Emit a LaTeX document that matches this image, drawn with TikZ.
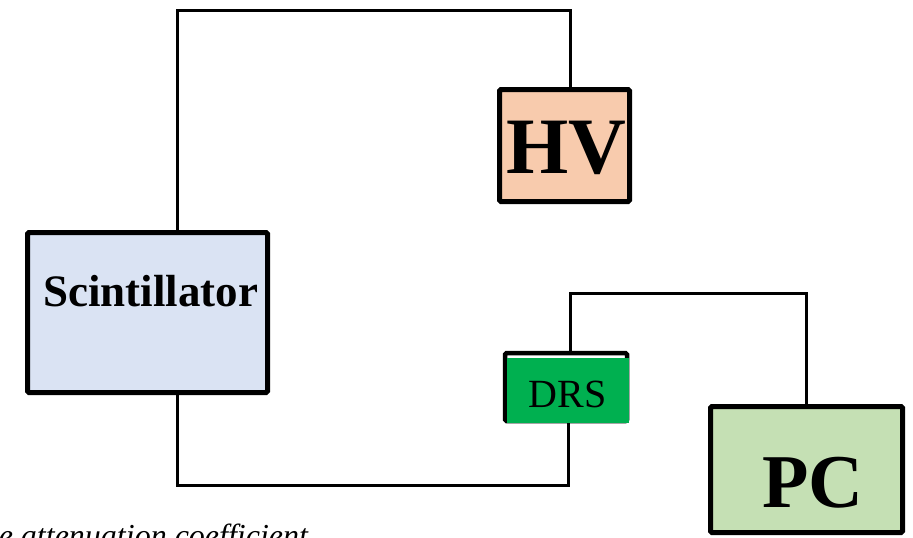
\documentclass[tikz,border=0pt]{standalone}
\usepackage{fontspec}
\setmainfont{Liberation Serif}
\definecolor{scintfill}{HTML}{DAE3F3}
\definecolor{hvfill}{HTML}{F8CBAD}
\definecolor{drsfill}{HTML}{00B050}
\definecolor{pcfill}{HTML}{C5E0B4}
\begin{document}
\begin{tikzpicture}[x=1pt,y=-1pt,
  blockbox/.style={draw=black,line width=5pt,rounded corners=1.5pt,inner sep=0pt,outer sep=0pt},
  wire/.style={draw=black,line width=3pt,line cap=butt,line join=miter},
  lbl/.style={inner sep=0pt,outer sep=0pt}]
\useasboundingbox (0,0) rectangle (913,538);
% boxes
\node[blockbox,fill=scintfill,minimum width=240pt,minimum height=160pt] (scint) at (147.5,312.5) {};
\node[lbl,font=\fontsize{45}{50}\selectfont\bfseries] (scintlbl) at (150.5,291) {Scintillator};
\node[blockbox,fill=hvfill,minimum width=130pt,minimum height=112pt] (hv) at (564.5,145.5) {};
\node[lbl,font=\fontsize{80}{86}\selectfont\bfseries] (hvlbl) at (566,148) {HV};
\node[draw=black,line width=4.5pt,rounded corners=1.5pt,inner sep=0pt,outer sep=0pt,minimum width=122pt,minimum height=68pt] (drsout) at (566,387) {};
\node[fill=drsfill,inner sep=0pt,outer sep=0pt,minimum width=121.5pt,minimum height=65pt] (drs) at (567.75,390.5) {};
\node[lbl,font=\fontsize{40}{44}\selectfont] (drslbl) at (567.5,394.5) {DRS};
\node[blockbox,fill=pcfill,minimum width=192pt,minimum height=126pt] (pc) at (806.5,469.5) {};
\node[lbl,font=\fontsize{76}{80}\selectfont\bfseries] (pclbl) at (813,483) {PC};
% wire corners
\coordinate (c1) at (177.5,10);
\coordinate (c2) at (570.5,10);
\coordinate (c3) at (177.5,485);
\coordinate (c4) at (568.5,485);
\coordinate (c5) at (570,293);
\coordinate (c6) at (806,293);
\draw[wire] (c1 |- scint.north) -- (c1) -- (c2) -- (c2 |- hv.north);
\draw[wire] (c3 |- scint.south) -- (c3) -- (c4) -- (c4 |- drs.south);
\draw[wire] (c5 |- drsout.north) -- (c5) -- (c6) -- (c6 |- pc.north);
% cropped caption text
\node[lbl,anchor=base east,font=\fontsize{32}{36}\selectfont\itshape] (caption) at (308,546) {the attenuation coefficient};
\end{tikzpicture}
\end{document}
